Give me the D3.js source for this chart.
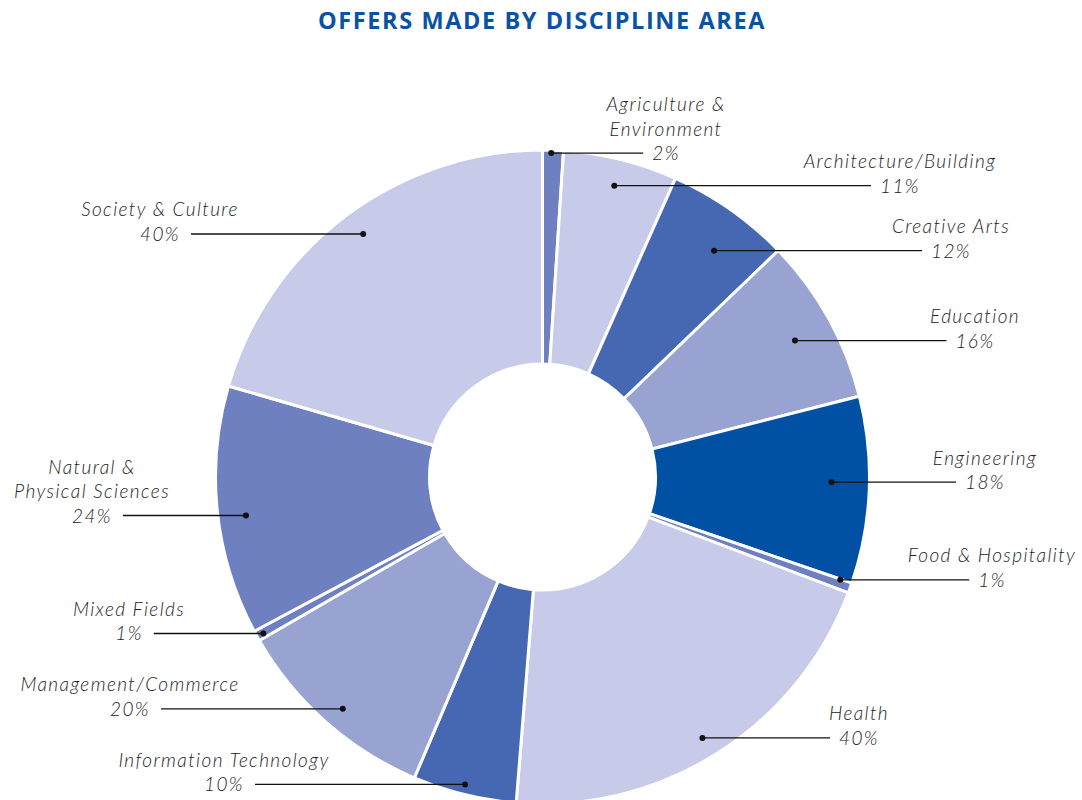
<!DOCTYPE html>
<html>
<head>
<meta charset="utf-8">
<script src="https://cdn.jsdelivr.net/npm/d3@7"></script>
<style>
  body { margin: 0; background: #fff; }
  .title { font-family: "Open Sans", sans-serif; font-weight: 700; fill: #0a52a5; }
  .lbl { font-family: Lato, sans-serif; font-style: italic; font-weight: 300; fill: #222; }
</style>
</head>
<body>
<div id="chart-container"></div>
<script>
// offers by discipline area (labels show the percentages, slices drawn from them)
var disciplines = ["Agriculture &\nEnvironment", "Architecture/Building", "Creative Arts", "Education",
  "Engineering", "Food & Hospitality", "Health", "Information Technology",
  "Management/Commerce", "Mixed Fields", "Natural &\nPhysical Sciences", "Society & Culture"];
var percents = [2, 11, 12, 16, 18, 1, 40, 10, 20, 1, 24, 40];
var shades = ["#6f80c0", "#c7cae8", "#4667b1", "#98a3d2", "#0050a4", "#6f80c0",
  "#c7cae8", "#4667b1", "#98a3d2", "#6f80c0", "#6f80c0", "#c7cae8"];

// label layout: centre x of each label block, how far in from the rim the dot sits,
// and a small angle nudge (degrees) off the slice middle
var labelX = [666, 900, 951, 975, 985, 992, 859, 224, 130, 129, 92, 160];
var dotInset = [3, 27, 43, 40, 38, 12, 21, 10, 21, 7, 28, 25];
var dotShift = [-0.3, 0, 2.1, 0.7, -1.3, -0.8, 0.8, 0.3, -0.8, -0.2, -1.4, 0.5];

var width = 1082, height = 800;
var cx = 542.5, cy = 477;
var outerR = 327, innerR = 113;

var svg = d3.select("#chart-container").append("svg")
  .attr("width", width).attr("height", height);

svg.append("text").attr("class", "title")
  .attr("x", 542).attr("y", 29)
  .attr("text-anchor", "middle")
  .style("font-size", "23.5px")
  .style("letter-spacing", "1.6px")
  .text("OFFERS MADE BY DISCIPLINE AREA");

var data = disciplines.map(function(d, i) {
  return {name: d, value: percents[i], color: shades[i], lx: labelX[i], inset: dotInset[i], shift: dotShift[i]};
});

var pie = d3.pie().sort(null).value(function(d) { return d.value; });
var arc = d3.arc().innerRadius(innerR).outerRadius(outerR);
var arcs = pie(data);

var g = svg.append("g").attr("transform", "translate(" + cx + "," + cy + ")");

g.selectAll("path.slice")
  .data(arcs)
  .enter()
  .append("path")
    .attr("class", "slice")
    .attr("d", arc)
    .style("fill", function(d) { return d.data.color; })
    .style("stroke", "#fff")
    .style("stroke-width", 3);

var labels = svg.append("g");

arcs.forEach(function(a) {
  var mid = (a.startAngle + a.endAngle) / 2 + a.data.shift * Math.PI / 180;
  var r = outerR - a.data.inset;
  var px = cx + r * Math.sin(mid);
  var py = cy - r * Math.cos(mid);
  var right = mid < Math.PI;

  var lines = a.data.name.split("\n");
  lines.push(a.data.value + "%");

  var t = labels.append("text").attr("class", "lbl")
    .attr("text-anchor", "middle")
    .style("font-size", "19px")
    .style("letter-spacing", "1.4px");
  lines.forEach(function(l, j) {
    t.append("tspan")
      .attr("x", a.data.lx)
      .attr("y", py + 7 - (lines.length - 1 - j) * 24.5)
      .text(l);
  });

  var pctWidth = t.select("tspan:last-child").node().getComputedTextLength();
  var lineEnd = right ? a.data.lx - pctWidth / 2 - 9 : a.data.lx + pctWidth / 2 + 11;

  labels.append("line")
    .attr("x1", px).attr("y1", py)
    .attr("x2", lineEnd).attr("y2", py)
    .style("stroke", "#111")
    .style("stroke-width", 1.3);

  labels.append("circle")
    .attr("cx", px).attr("cy", py)
    .attr("r", 3)
    .style("fill", "#111");
});
</script>
</body>
</html>
